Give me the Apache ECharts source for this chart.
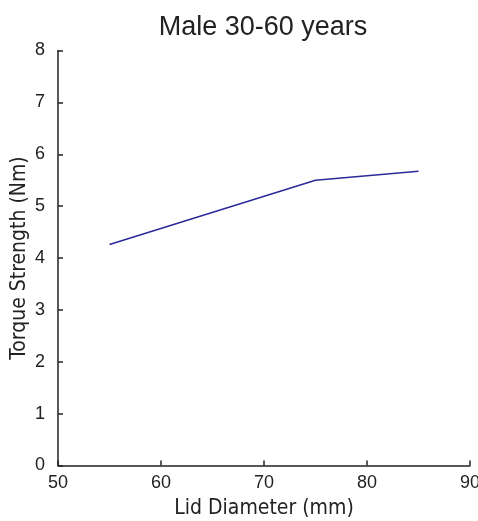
<!DOCTYPE html>
<html>
<head>
<meta charset="utf-8">
<script src="https://cdn.jsdelivr.net/npm/echarts@6/dist/echarts.min.js"></script>
<style>
  html, body { margin: 0; padding: 0; background: #fff; }
  #chart { width: 478px; height: 521px; }
</style>
</head>
<body>
<div id="chart"></div>
<script>
// data
var diameters = [55, 75, 85];
var torque = [4.26, 5.5, 5.67];
var xTicks = [50, 60, 70, 80, 90];
var yTicks = [0, 1, 2, 3, 4, 5, 6, 7, 8];

var chart = echarts.init(document.getElementById('chart'));

var points = diameters.map(function (d, i) { return [d, torque[i]]; });

var option = {
  backgroundColor: '#fff',
  animation: false,
  title: {
    text: 'Male 30-60 years',
    left: 258,
    textAlign: 'center',
    top: 9,
    textStyle: { fontFamily: 'Liberation Sans', fontSize: 27, fontWeight: 'normal', color: '#222' }
  },
  grid: { left: 58, right: 8, top: 50.5, bottom: 55.5, outerBoundsMode: 'none' },
  xAxis: {
    type: 'value',
    min: xTicks[0],
    max: xTicks[xTicks.length - 1],
    interval: 10,
    name: 'Lid Diameter (mm)',
    nameLocation: 'middle',
    nameGap: 33,
    nameTextStyle: { fontFamily: 'DejaVu Sans Condensed', fontSize: 21, color: '#222' },
    axisLine: { lineStyle: { color: '#222', width: 1.5 } },
    axisTick: { inside: true, length: 5, lineStyle: { color: '#222', width: 1.5 } },
    axisLabel: { fontFamily: 'Liberation Sans', fontSize: 18, color: '#222', margin: 9 },
    splitLine: { show: false }
  },
  yAxis: {
    type: 'value',
    min: yTicks[0],
    max: yTicks[yTicks.length - 1],
    interval: 1,
    name: 'Torque Strength (Nm)',
    nameLocation: 'middle',
    nameMoveOverlap: false,
    nameGap: 28,
    nameTextStyle: { fontFamily: 'DejaVu Sans Condensed', fontSize: 21, color: '#222' },
    axisLine: { show: true, lineStyle: { color: '#222', width: 1.5 } },
    axisTick: { show: true, inside: true, length: 5, lineStyle: { color: '#222', width: 1.5 } },
    axisLabel: { fontFamily: 'Liberation Sans', fontSize: 18, color: '#222', margin: 13 },
    splitLine: { show: false }
  },
  series: [{
    type: 'line',
    data: points,
    showSymbol: false,
    lineStyle: { color: '#2a2a9a', width: 1.5 }
  }]
};

chart.setOption(option);
</script>
</body>
</html>
